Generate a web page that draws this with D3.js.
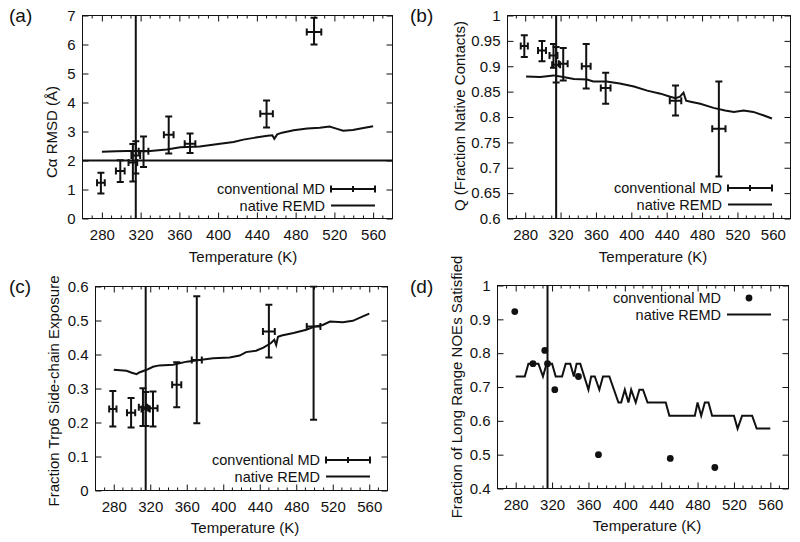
<!DOCTYPE html>
<html><head><meta charset="utf-8">
<script src="https://cdn.jsdelivr.net/npm/d3@7"></script>
<style>
body{margin:0;background:#fff;}
svg{display:block;font-family:"Liberation Sans",Arial,sans-serif;}
</style></head><body>
<svg id="chart" width="800" height="542"></svg>
<script>
// ---------- data ----------
const xTicks = [280, 320, 360, 400, 440, 480, 520, 560];
const meltTemp = 315;
const rmsdThreshold = 2;

const tempsMD = [279, 299, 312, 315, 323, 349, 371, 450, 499];
const tempErr = [4, 4.5, 4.5, 4.5, 5, 5, 5.5, 6.5, 7.5];

const rmsdMD = [1.23, 1.64, 1.93, 2.17, 2.32, 2.89, 2.58, 3.61, 6.43];
const rmsdLo = [0.86, 1.26, 1.28, 1.55, 1.78, 2.24, 2.26, 3.14, 6.00];
const rmsdHi = [1.58, 2.01, 2.57, 2.66, 2.83, 3.52, 2.93, 4.07, 6.92];

const qMD = [0.940, 0.931, 0.921, 0.903, 0.905, 0.900, 0.857, 0.832, 0.777];
const qLo = [0.918, 0.910, 0.897, 0.868, 0.872, 0.856, 0.826, 0.803, 0.683];
const qHi = [0.961, 0.950, 0.944, 0.938, 0.936, 0.944, 0.887, 0.862, 0.870];

const expMD = [0.240, 0.229, 0.245, 0.240, 0.242, 0.311, 0.384, 0.468, 0.482];
const expLo = [0.188, 0.185, 0.190, 0.190, 0.188, 0.245, 0.198, 0.391, 0.208];
const expHi = [0.293, 0.272, 0.301, 0.290, 0.291, 0.377, 0.571, 0.546, 0.600];

const noeMD = [0.923, 0.769, 0.808, 0.769, 0.692, 0.731, 0.500, 0.489, 0.462];

const remdTempA = [280, 295, 306, 330, 347, 361, 381, 402, 416, 426, 437, 451, 456, 458, 461, 466, 478, 492, 505, 515, 522, 529, 539, 550, 560];
const remdRmsd  = [2.30, 2.32, 2.33, 2.33, 2.38, 2.46, 2.48, 2.58, 2.64, 2.72, 2.78, 2.85, 2.87, 2.75, 2.90, 2.96, 3.04, 3.10, 3.13, 3.17, 3.10, 3.03, 3.05, 3.12, 3.18];

const remdTempB = [281, 297, 312, 323, 335, 350, 357, 372, 387, 403, 418, 433, 444, 450, 455, 459, 462, 467, 478, 493, 506, 516, 527, 538, 550, 559];
const remdQ     = [0.880, 0.879, 0.882, 0.879, 0.875, 0.874, 0.870, 0.870, 0.866, 0.860, 0.852, 0.846, 0.840, 0.837, 0.840, 0.848, 0.832, 0.830, 0.826, 0.818, 0.813, 0.810, 0.813, 0.810, 0.803, 0.797];

const remdTempC = [280, 294, 299, 305, 308, 316, 323, 330, 345, 360, 374, 389, 407, 418, 425, 436, 444, 452, 456, 458, 460, 464, 477, 491, 500, 509, 517, 531, 542, 553, 560];
const remdExp   = [0.355, 0.352, 0.347, 0.342, 0.347, 0.355, 0.364, 0.368, 0.370, 0.379, 0.384, 0.389, 0.391, 0.397, 0.407, 0.411, 0.420, 0.433, 0.443, 0.428, 0.452, 0.456, 0.463, 0.473, 0.482, 0.487, 0.497, 0.495, 0.499, 0.512, 0.520];

const remdTempD = [280, 290, 294, 305, 310, 314, 320, 324, 331, 335, 340, 344, 347, 351, 360, 363, 367, 372, 376, 383, 393, 396, 400, 404, 407, 412, 416, 420, 425, 445, 449, 477, 480, 484, 488, 492, 496, 520, 524, 529, 540, 545, 560];
const remdNoe   = [0.731, 0.731, 0.769, 0.769, 0.731, 0.769, 0.769, 0.731, 0.731, 0.769, 0.769, 0.731, 0.769, 0.769, 0.692, 0.731, 0.731, 0.692, 0.731, 0.731, 0.654, 0.654, 0.692, 0.654, 0.692, 0.654, 0.692, 0.692, 0.654, 0.654, 0.615, 0.615, 0.654, 0.615, 0.654, 0.654, 0.615, 0.615, 0.577, 0.615, 0.615, 0.577, 0.577];

// ---------- drawing ----------
const svg = d3.select("#chart");
const INK = "#111";
const fmt = d3.format("~g");

function panel(cfg) {
  const g = svg.append("g");
  const x = d3.scaleLinear().domain([260, 580]).range([cfg.left, cfg.right]);
  const y = d3.scaleLinear().domain(cfg.yDomain).range([cfg.bottom, cfg.top]);
  const clipId = "clip" + cfg.id;
  svg.append("clipPath").attr("id", clipId).append("rect")
    .attr("x", cfg.left).attr("y", cfg.top - 1)
    .attr("width", cfg.right - cfg.left).attr("height", cfg.bottom - cfg.top + 2);

  const minor = d3.range(270, 580, 10).filter(v => !xTicks.includes(v));
  [[cfg.bottom, -1], [cfg.top, 1]].forEach(([yy, dir]) => {
    g.selectAll(null).data(minor).enter().append("line")
      .attr("x1", d => x(d)).attr("x2", d => x(d))
      .attr("y1", yy).attr("y2", yy + dir * 3)
      .attr("stroke", INK).attr("stroke-width", 1);
  });

  const ax = d3.axisBottom(x).tickValues(xTicks).tickSizeInner(-6).tickSizeOuter(0).tickPadding(11).tickFormat(d3.format("d"));
  const axG = g.append("g").attr("transform", `translate(0,${cfg.bottom})`).call(ax);
  const axT = g.append("g").attr("transform", `translate(0,${cfg.top})`)
    .call(d3.axisTop(x).tickValues(xTicks).tickSizeInner(-6).tickSizeOuter(0).tickFormat(""));
  const ay = d3.axisLeft(y).tickValues(cfg.yTicks).tickSizeInner(-6).tickSizeOuter(0).tickPadding(7).tickFormat(fmt);
  const ayG = g.append("g").attr("transform", `translate(${cfg.left},0)`).call(ay);
  const ayR = g.append("g").attr("transform", `translate(${cfg.right},0)`)
    .call(d3.axisRight(y).tickValues(cfg.yTicks).tickSizeInner(-6).tickSizeOuter(0).tickFormat(""));
  [axG, axT, ayG, ayR].forEach(a => {
    a.select(".domain").remove();
    a.selectAll("line").attr("stroke", INK);
    a.selectAll("text").attr("fill", INK).style("font-size", "15px")
      .style("font-family", '"Liberation Sans", Arial, sans-serif');
  });

  g.append("rect").attr("x", cfg.left).attr("y", cfg.top)
    .attr("width", cfg.right - cfg.left).attr("height", cfg.bottom - cfg.top)
    .attr("fill", "none").attr("stroke", INK).attr("stroke-width", 1);

  const plot = g.append("g").attr("clip-path", `url(#${clipId})`);

  plot.append("line").attr("x1", x(meltTemp)).attr("x2", x(meltTemp))
    .attr("y1", cfg.top).attr("y2", cfg.bottom).attr("stroke", INK).attr("stroke-width", 2);
  if (cfg.hLine !== undefined) {
    plot.append("line").attr("x1", cfg.left).attr("x2", cfg.right)
      .attr("y1", y(cfg.hLine)).attr("y2", y(cfg.hLine)).attr("stroke", INK).attr("stroke-width", 2);
  }

  const pts = cfg.remdT.map((t, i) => [t, cfg.remdV[i]]);
  plot.append("path").datum(pts)
    .attr("d", d3.line().x(d => x(d[0])).y(d => y(d[1])))
    .attr("fill", "none").attr("stroke", INK).attr("stroke-width", 2).attr("stroke-linejoin", "miter");

  const md = tempsMD.map((t, i) => ({t, e: tempErr[i], v: cfg.md[i],
    lo: cfg.lo ? cfg.lo[i] : null, hi: cfg.hi ? cfg.hi[i] : null}));
  if (cfg.lo) {
    const cap = 3.5;
    const eb = plot.selectAll(null).data(md).enter().append("g")
      .attr("stroke", INK).attr("stroke-width", 2);
    eb.append("line").attr("x1", d => x(d.t)).attr("x2", d => x(d.t))
      .attr("y1", d => y(d.lo)).attr("y2", d => y(d.hi));
    eb.append("line").attr("x1", d => x(d.t) - cap).attr("x2", d => x(d.t) + cap)
      .attr("y1", d => y(d.lo)).attr("y2", d => y(d.lo));
    eb.append("line").attr("x1", d => x(d.t) - cap).attr("x2", d => x(d.t) + cap)
      .attr("y1", d => y(d.hi)).attr("y2", d => y(d.hi));
    eb.append("line").attr("x1", d => x(d.t - d.e)).attr("x2", d => x(d.t + d.e))
      .attr("y1", d => y(d.v)).attr("y2", d => y(d.v));
    eb.append("line").attr("x1", d => x(d.t - d.e)).attr("x2", d => x(d.t - d.e))
      .attr("y1", d => y(d.v) - cap).attr("y2", d => y(d.v) + cap);
    eb.append("line").attr("x1", d => x(d.t + d.e)).attr("x2", d => x(d.t + d.e))
      .attr("y1", d => y(d.v) - cap).attr("y2", d => y(d.v) + cap);
  } else {
    plot.selectAll(null).data(md).enter().append("circle")
      .attr("cx", d => x(d.t)).attr("cy", d => y(d.v)).attr("r", 3.4).attr("fill", INK);
  }

  const L = cfg.legend;
  const txt = (s, yy) => g.append("text").attr("x", L.x).attr("y", yy).attr("dy", "0.35em")
    .attr("text-anchor", "end").attr("fill", INK).style("font-size", "14.5px").text(s);
  txt("conventional MD", L.y1);
  txt("native REMD", L.y2);
  const sx0 = L.x + 6, sx1 = L.x + 50;
  if (cfg.lo) {
    const lg = g.append("g").attr("stroke", INK).attr("stroke-width", 2);
    lg.append("line").attr("x1", sx0).attr("x2", sx1).attr("y1", L.y1).attr("y2", L.y1);
    lg.append("line").attr("x1", sx0).attr("x2", sx0).attr("y1", L.y1 - 3.5).attr("y2", L.y1 + 3.5);
    lg.append("line").attr("x1", sx1).attr("x2", sx1).attr("y1", L.y1 - 3.5).attr("y2", L.y1 + 3.5);
    lg.append("line").attr("x1", (sx0 + sx1) / 2).attr("x2", (sx0 + sx1) / 2).attr("y1", L.y1 - 3).attr("y2", L.y1 + 3);
  } else {
    g.append("circle").attr("cx", (sx0 + sx1) / 2).attr("cy", L.y1).attr("r", 3.4).attr("fill", INK);
  }
  g.append("line").attr("x1", sx0).attr("x2", sx1).attr("y1", L.y2).attr("y2", L.y2)
    .attr("stroke", INK).attr("stroke-width", 2);

  g.append("text").attr("x", cfg.xTitle[0]).attr("y", cfg.xTitle[1]).attr("dy", "0.35em")
    .attr("text-anchor", "middle").attr("fill", INK).style("font-size", "15px").text("Temperature (K)");
  g.append("text").attr("transform", `translate(${cfg.yTitle[0]},${cfg.yTitle[1]}) rotate(-90)`)
    .attr("dy", "0.35em").attr("text-anchor", "middle").attr("fill", INK)
    .style("font-size", "15px").text(cfg.yLabel);
  g.append("text").attr("x", cfg.tag[0]).attr("y", cfg.tag[1]).attr("fill", INK)
    .style("font-size", "19px").text(cfg.tagText);
}

panel({id: "a", left: 82.5, right: 392.5, top: 15.5, bottom: 218.5,
  yDomain: [0, 7], yTicks: d3.range(0, 8), hLine: rmsdThreshold,
  md: rmsdMD, lo: rmsdLo, hi: rmsdHi, remdT: remdTempA, remdV: remdRmsd,
  legend: {x: 325, y1: 189, y2: 205.5}, xTitle: [243, 257], yTitle: [52, 132],
  yLabel: "Cα RMSD (Å)", tag: [9, 22], tagText: "(a)"});

panel({id: "b", left: 507.5, right: 790.5, top: 15.5, bottom: 218.5,
  yDomain: [0.6, 1], yTicks: d3.range(0.6, 1.0001, 0.05).map(v => +v.toFixed(2)),
  md: qMD, lo: qLo, hi: qHi, remdT: remdTempB, remdV: remdQ,
  legend: {x: 722, y1: 188, y2: 204.5}, xTitle: [653, 257], yTitle: [460, 116],
  yLabel: "Q (Fraction Native Contacts)", tag: [410, 22], tagText: "(b)"});

panel({id: "c", left: 95.5, right: 387.5, top: 286.5, bottom: 490.5,
  yDomain: [0, 0.6], yTicks: d3.range(0, 0.6001, 0.1).map(v => +v.toFixed(1)),
  md: expMD, lo: expLo, hi: expHi, remdT: remdTempC, remdV: remdExp,
  legend: {x: 320, y1: 460, y2: 476.5}, xTitle: [245, 528], yTitle: [54, 391],
  yLabel: "Fraction Trp6 Side-chain Exposure", tag: [9, 293], tagText: "(c)"});

panel({id: "d", left: 497.5, right: 788.5, top: 285.5, bottom: 488.5,
  yDomain: [0.4, 1], yTicks: d3.range(0.4, 1.0001, 0.1).map(v => +v.toFixed(1)),
  md: noeMD, remdT: remdTempD, remdV: remdNoe,
  legend: {x: 721, y1: 298, y2: 314.5}, xTitle: [647, 526], yTitle: [457, 387],
  yLabel: "Fraction of Long Range NOEs Satisfied", tag: [410, 293], tagText: "(d)"});
</script>
</body></html>
